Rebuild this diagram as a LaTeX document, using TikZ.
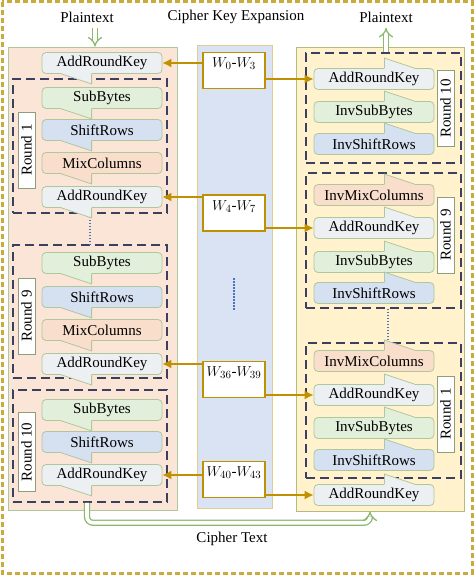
\documentclass[tikz,border=0pt]{standalone}
\usepackage{fontspec}
\setmainfont{Liberation Serif}
\usetikzlibrary{arrows.meta}

\definecolor{gold}{HTML}{BF9000}
\definecolor{framegold}{HTML}{C9AA3C}
\definecolor{navy}{HTML}{3B4060}
\definecolor{boxgreen}{HTML}{AFC79C}
\definecolor{keyfill}{HTML}{EDF0F3}
\definecolor{subfill}{HTML}{E2EFDA}
\definecolor{shiftfill}{HTML}{D5E0F1}
\definecolor{mixfill}{HTML}{F9DECB}
\definecolor{encpanel}{HTML}{FBE5D6}
\definecolor{decpanel}{HTML}{FFF2CC}
\definecolor{keypanel}{HTML}{DAE3F3}
\definecolor{flowgreen}{HTML}{8DB86E}
\definecolor{dotblue}{HTML}{4A72C0}

\tikzset{
	every node/.style={font=\fontsize{15}{18}\selectfont},
	panel/.style={line width=0.8pt, inner sep=0pt},
	stage/.style={draw=boxgreen, line width=0.8pt, rounded corners=4pt, minimum width=120pt, minimum height=21pt, inner sep=0pt},
	boxline/.style={draw=boxgreen, line width=0.8pt},
	roundbox/.style={draw=navy, line width=1.5pt, dash pattern=on 9pt off 5pt, inner sep=0pt},
	roundlabel/.style={draw=boxgreen!80!black, fill=white, line width=0.8pt, rotate=90, minimum width=76pt, minimum height=17pt, inner sep=1pt},
	keybox/.style={draw=gold, fill=white, line width=1.3pt, minimum width=62pt, text height=13pt, text depth=19pt, inner sep=2pt},
	keyarrow/.style={draw=gold, line width=1.5pt, -{Latex[length=9pt,width=9pt]}},
	dataarrow/.style={draw=flowgreen, double=white, double distance=3.6pt, line width=1.3pt, -{Implies}},
	dotline/.style={draw=dotblue, line width=1.5pt, dash pattern=on 1.5pt off 1.5pt}
}

% tail of a stage, pointing down (encryption side)
\newcommand{\taildown}[2]{%
	\fill[#2] ([xshift=20pt,yshift=1pt]#1.south west) -- ([xshift=50pt,yshift=1pt]#1.south west) -- ([xshift=50pt,yshift=-10pt]#1.south west) -- ([xshift=20pt]#1.south west) -- cycle;
	\draw[boxline] ([xshift=20pt]#1.south west) -- ([xshift=50pt,yshift=-10pt]#1.south west) -- ([xshift=50pt]#1.south west);}

% tail of a stage, pointing up (decryption side)
\newcommand{\tailup}[2]{%
	\fill[#2] ([xshift=-50pt,yshift=-1pt]#1.north east) -- ([xshift=-50pt,yshift=10pt]#1.north east) -- ([xshift=-20pt]#1.north east) -- ([xshift=-20pt,yshift=-1pt]#1.north east) -- cycle;
	\draw[boxline] ([xshift=-50pt]#1.north east) -- ([xshift=-50pt,yshift=10pt]#1.north east) -- ([xshift=-20pt]#1.north east);}

\begin{document}
\begin{tikzpicture}[x=1pt, y=-1pt]
\useasboundingbox (0,0) rectangle (474,575);

%outer frame
\draw[framegold, line width=3pt, dash pattern=on 5pt off 3pt] (2,2) rectangle (472,573);

%titles
\node (ptl) at (87,17) {Plaintext};
\node (cke) at (236,17) {Cipher Key Expansion};
\node (ptr) at (386,17) {Plaintext};
\node (ct) at (232,539) {Cipher Text};

%panels
\node[panel, draw=boxgreen, fill=encpanel, minimum width=169pt, minimum height=463pt] (encp) at (92.5,278.5) {};
\node[panel, draw=gold!45, fill=keypanel, minimum width=75pt, minimum height=463pt] (keyp) at (234.5,276.5) {};
\node[panel, draw=boxgreen!80!gold, fill=decpanel, minimum width=168pt, minimum height=464pt] (decp) at (380,279) {};

%round frames
\node[roundbox, minimum width=154pt, minimum height=134pt] (rnd1) at (90,146) {};
\node[roundbox, minimum width=154pt, minimum height=133pt] (rnd9) at (90,311.5) {};
\node[roundbox, minimum width=154pt, minimum height=112pt] (rnd10) at (90,446) {};
\node[roundbox, minimum width=155pt, minimum height=110pt] (rrnd10) at (383.5,108) {};
\node[roundbox, minimum width=155pt, minimum height=135pt] (rrnd9) at (383.5,240.5) {};
\node[roundbox, minimum width=155pt, minimum height=135pt] (rrnd1) at (383.5,410.5) {};

%round labels
\node[roundlabel] (rl1) at (26.5,150) {Round 1};
\node[roundlabel] (rl9) at (26.5,316) {Round 9};
\node[roundlabel, minimum width=79pt] (rl10) at (26.5,452) {Round 10};
\node[roundlabel] (rrl10) at (445.5,108.5) {Round 10};
\node[roundlabel] (rrl9) at (445.5,235) {Round 9};
\node[roundlabel] (rrl1) at (445.5,414) {Round 1};

%dotted gaps
\draw[dotline] (rnd1.south) -- (rnd9.north);
\coordinate (md1) at (234,278);
\coordinate (md2) at (234,311);
\draw[dotline] (md1) -- (md2);
\draw[dotline] ([xshift=4.5pt]rrnd9.south) -- ([xshift=4.5pt]rrnd1.north);

%encryption stages
\node[stage, fill=keyfill] (lark0) at (102,63) {AddRoundKey};
\node[stage, fill=subfill] (sb1) at (102,98) {SubBytes};
\node[stage, fill=shiftfill] (sr1) at (102,130) {ShiftRows};
\node[stage, fill=mixfill] (mc1) at (102,163) {MixColumns};
\node[stage, fill=keyfill] (lark1) at (102,197) {AddRoundKey};
\node[stage, fill=subfill] (sb9) at (102,263) {SubBytes};
\node[stage, fill=shiftfill] (sr9) at (102,297) {ShiftRows};
\node[stage, fill=mixfill] (mc9) at (102,330) {MixColumns};
\node[stage, fill=keyfill] (lark9) at (102,364) {AddRoundKey};
\node[stage, fill=subfill] (sb10) at (102,410) {SubBytes};
\node[stage, fill=shiftfill] (sr10) at (102,442) {ShiftRows};
\node[stage, fill=keyfill] (lark10) at (102,475) {AddRoundKey};

\foreach \n/\c in {lark0/keyfill, sb1/subfill, sr1/shiftfill, mc1/mixfill, lark1/keyfill, sb9/subfill, sr9/shiftfill, mc9/mixfill, lark9/keyfill, sb10/subfill, sr10/shiftfill, lark10/keyfill}
	\taildown{\n}{\c};

%decryption stages
\node[stage, fill=keyfill] (rark10) at (374,79) {AddRoundKey};
\node[stage, fill=subfill] (risb10) at (374,112) {InvSubBytes};
\node[stage, fill=shiftfill] (rish10) at (374,144) {InvShiftRows};
\node[stage, fill=mixfill] (rimc9) at (374,195) {InvMixColumns};
\node[stage, fill=keyfill] (rark9) at (374,228) {AddRoundKey};
\node[stage, fill=subfill] (risb9) at (374,262) {InvSubBytes};
\node[stage, fill=shiftfill] (rish9) at (374,293) {InvShiftRows};
\node[stage, fill=mixfill] (rimc1) at (374,361) {InvMixColumns};
\node[stage, fill=keyfill] (rark1) at (374,395) {AddRoundKey};
\node[stage, fill=subfill] (risb1) at (374,428) {InvSubBytes};
\node[stage, fill=shiftfill] (rish1) at (374,460) {InvShiftRows};
\node[stage, fill=keyfill] (rark0) at (374,495) {AddRoundKey};

\foreach \n/\c in {rark10/keyfill, risb10/subfill, rish10/shiftfill, rimc9/mixfill, rark9/keyfill, risb9/subfill, rish9/shiftfill, rimc1/mixfill, rark1/keyfill, risb1/subfill, rish1/shiftfill, rark0/keyfill}
	\tailup{\n}{\c};

%round keys
\node[keybox] (k0) at (234,70.5) {$W_{0}$-$W_{3}$};
\node[keybox] (k4) at (234,213) {$W_{4}$-$W_{7}$};
\node[keybox] (k36) at (234,379.5) {$W_{36}$-$W_{39}$};
\node[keybox] (k40) at (234,479.5) {$W_{40}$-$W_{43}$};

\draw[keyarrow] (k0.west |- lark0) -- (lark0.east);
\draw[keyarrow] (k0.east |- rark10) -- (rark10.west);
\draw[keyarrow] (k4.west |- lark1) -- (lark1.east);
\draw[keyarrow] (k4.east |- rark9) -- (rark9.west);
\draw[keyarrow] (k36.west |- lark9) -- (lark9.east);
\draw[keyarrow] (k36.east |- rark1) -- (rark1.west);
\draw[keyarrow] (k40.west |- lark10) -- (lark10.east);
\draw[keyarrow] (k40.east |- rark0) -- (rark0.west);

%data flow
\coordinate (inl) at ([xshift=8pt,yshift=-2pt]ptl.south);
\draw[dataarrow] (inl) -- (inl |- encp.north);
\draw[dataarrow] ([yshift=-5pt]ptr.south |- decp.north) -- ([yshift=-2pt]ptr.south);
\coordinate (outl) at ([xshift=-3pt]rnd10.south);
\coordinate (outr) at ([xshift=-10pt]decp.south);
\draw[dataarrow, rounded corners=6pt] (outl) -- ++(0,20) -| (outr);

\end{tikzpicture}
\end{document}
